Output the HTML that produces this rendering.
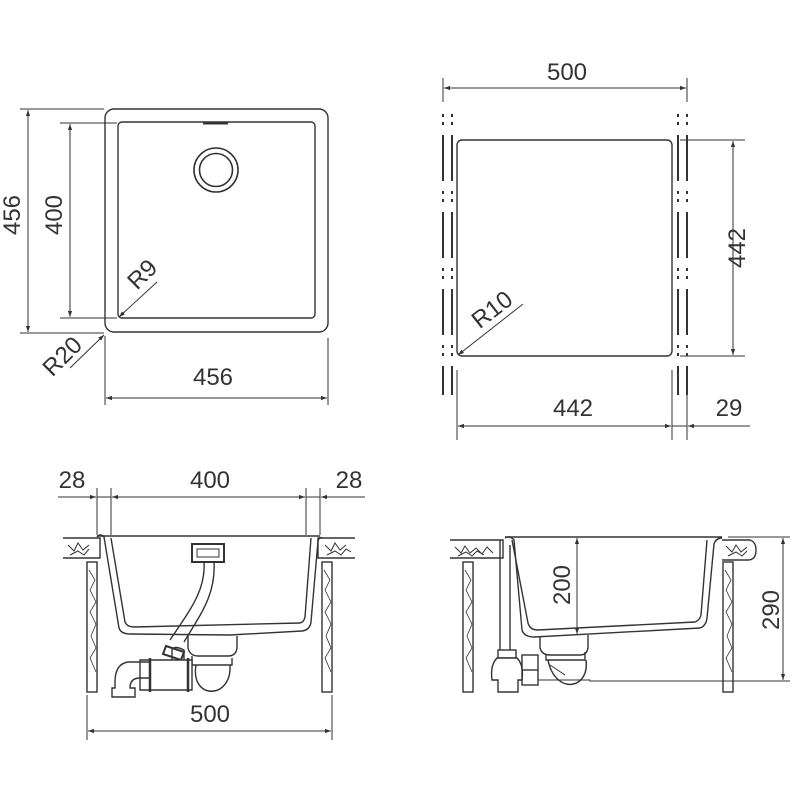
<!DOCTYPE html>
<html><head><meta charset="utf-8"><style>
html,body{margin:0;padding:0;background:#fff}
svg{display:block}
text{font-family:"Liberation Sans",sans-serif;font-size:24px;fill:#333}
</style></head><body>
<svg width="800" height="800" viewBox="0 0 800 800" xmlns="http://www.w3.org/2000/svg">
<defs>
<marker id="a" viewBox="0 0 10 10" refX="10" refY="5" markerWidth="9" markerHeight="6" orient="auto-start-reverse" markerUnits="userSpaceOnUse"><path d="M0,1.5 L10,5 L0,8.5 z" fill="#333"/></marker>
</defs>
<g stroke="#333" fill="none" stroke-width="1.4">
<!-- TOP LEFT -->
<rect x="105" y="109" width="223" height="223" rx="9"/>
<rect x="118" y="122" width="197" height="196" rx="4"/>
<line x1="203" y1="123" x2="228" y2="123" stroke-width="3"/>
<circle cx="216" cy="170" r="22" stroke-width="1.6"/>
<circle cx="216" cy="170" r="16.5" stroke-width="1.6"/>
<line x1="20" y1="109" x2="104" y2="109" stroke-width="1"/>
<line x1="20" y1="333" x2="104" y2="333" stroke-width="1"/>
<line x1="28" y1="110" x2="28" y2="332" marker-start="url(#a)" marker-end="url(#a)" stroke-width="1"/>
<line x1="60" y1="123" x2="117" y2="123" stroke-width="1"/>
<line x1="60" y1="318" x2="117" y2="318" stroke-width="1"/>
<line x1="70" y1="124" x2="70" y2="317" marker-start="url(#a)" marker-end="url(#a)" stroke-width="1"/>
<line x1="157" y1="282" x2="119" y2="317" marker-end="url(#a)" stroke-width="1"/>
<line x1="70" y1="368" x2="104" y2="335" marker-end="url(#a)" stroke-width="1"/>
<line x1="105" y1="336" x2="105" y2="405" stroke-width="1"/>
<line x1="328" y1="338" x2="328" y2="405" stroke-width="1"/>
<line x1="106" y1="398" x2="327" y2="398" marker-start="url(#a)" marker-end="url(#a)" stroke-width="1"/>

<!-- TOP RIGHT -->
<line x1="443" y1="78" x2="443" y2="102" stroke-width="1"/>
<line x1="687" y1="78" x2="687" y2="102" stroke-width="1"/>
<line x1="444" y1="88" x2="686" y2="88" marker-start="url(#a)" marker-end="url(#a)" stroke-width="1"/>
<g stroke-width="2" stroke-dasharray="3 5 3 10 46 10 3 5 3 10 46 10 3 5 3 10 46 10 3 5 3 10 38 10 3 5 3 6 14 20">
<line x1="443" y1="114" x2="443" y2="395"/>
<line x1="452" y1="114" x2="452" y2="395"/>
<line x1="678" y1="114" x2="678" y2="395"/>
<line x1="687" y1="114" x2="687" y2="395"/>
</g>
<rect x="457" y="140" width="215" height="216" rx="5"/>
<line x1="680" y1="140" x2="745" y2="140" stroke-width="1"/>
<line x1="680" y1="356" x2="745" y2="356" stroke-width="1"/>
<line x1="733" y1="141" x2="733" y2="355" marker-start="url(#a)" marker-end="url(#a)" stroke-width="1"/>
<line x1="523" y1="304" x2="458" y2="355" marker-end="url(#a)" stroke-width="1"/>
<line x1="457" y1="370" x2="457" y2="440" stroke-width="1"/>
<line x1="672" y1="370" x2="672" y2="440" stroke-width="1"/>
<line x1="687" y1="395" x2="687" y2="440" stroke-width="1"/>
<line x1="458" y1="426" x2="671" y2="426" marker-start="url(#a)" marker-end="url(#a)" stroke-width="1"/>
<line x1="672" y1="426" x2="687" y2="426" stroke-width="1"/>
<line x1="750" y1="426" x2="688" y2="426" marker-end="url(#a)" stroke-width="1"/>

<!-- BOTTOM LEFT -->
<line x1="97" y1="488" x2="97" y2="535" stroke-width="1"/>
<line x1="111" y1="488" x2="111" y2="535" stroke-width="1"/>
<line x1="306" y1="488" x2="306" y2="535" stroke-width="1"/>
<line x1="320" y1="488" x2="320" y2="535" stroke-width="1"/>
<line x1="58" y1="497" x2="96" y2="497" marker-end="url(#a)" stroke-width="1"/>
<line x1="97" y1="497" x2="111" y2="497" stroke-width="1"/>
<line x1="112" y1="497" x2="305" y2="497" marker-start="url(#a)" marker-end="url(#a)" stroke-width="1"/>
<line x1="306" y1="497" x2="320" y2="497" stroke-width="1"/>
<line x1="365" y1="497" x2="321" y2="497" marker-end="url(#a)" stroke-width="1"/>
<!-- counters -->
<path d="M63,538 H100 V558 H63"/><path d="M355,538 H318 V558 H355"/>
<path d="M68,545 l6,6 l4,-8 l5,7 l6,-5 M70,555 l8,-4 l6,4 l5,-6" stroke-width="1"/>
<path d="M325,545 l6,6 l4,-8 l5,7 l6,-5 M327,555 l8,-4 l6,4 l5,-6 l5,3" stroke-width="1"/>
<rect x="87" y="562" width="10" height="130"/><rect x="322" y="562" width="10" height="130"/>
<path d="M89,570 l6,10 l-5,10 l6,12 l-6,10 l6,12 l-5,12 l5,12 l-6,10 l6,14 M324,570 l6,10 l-5,10 l6,12 l-6,10 l6,12 l-5,12 l5,12 l-6,10 l6,14" stroke-width="0.8"/>
<!-- sink -->
<path d="M97,536 H320"/>
<path d="M97,537 Q100,533 104,537 L119,628 Q121,634 130,634 L230,635 L302,631 Q310,630 311,622 L318,541 Q320,536 322,538"/>
<path d="M111,538 L125,622 Q127,627 134,627 L300,623 Q304,622 305,617 L311,538"/>
<path d="M188,635 V648 Q190,656 198,656 H228 Q236,656 237,648 V636"/>
<rect x="192" y="544" width="32" height="18" stroke-width="2"/>
<rect x="197" y="549" width="22" height="8" stroke-width="1"/>
<path d="M204,562 C206,590 190,610 170,640" stroke-width="1.4"/>
<path d="M214,562 C216,595 200,615 184,642" stroke-width="1.4"/>
<path d="M166,646 l18,6 l-3,8 l-18,-6 z" stroke-width="2"/>
<path d="M192,656 V665 H232 V658" /><path d="M196,665 C190,700 232,700 230,665"/>
<path d="M140,660 H192 V690 H140 Z" fill="#fff"/>
<line x1="150" y1="658" x2="150" y2="692" stroke-width="2.5"/>
<line x1="188" y1="658" x2="188" y2="692" stroke-width="2.5"/>
<path d="M150,662 H128 Q115,664 115,682 V688 H112 V697 H135 V688 H130 Q130,678 140,678 H150"/>
<path d="M172,660 V650 Q174,645 184,650 V660"/>
<line x1="87" y1="695" x2="87" y2="740" stroke-width="1"/>
<line x1="332" y1="695" x2="332" y2="740" stroke-width="1"/>
<line x1="88" y1="731" x2="331" y2="731" marker-start="url(#a)" marker-end="url(#a)" stroke-width="1"/>

<!-- BOTTOM RIGHT -->
<path d="M450,540 H503 V558 H450"/><path d="M722,540 H750 Q756,542 756,550 Q756,560 748,560 H722"/>
<path d="M455,547 l6,6 l4,-7 l5,7 l6,-5 l6,6 l5,-7 l6,6 M458,556 l8,-4 l6,4 l5,-5 l7,4" stroke-width="1"/>
<path d="M726,546 l6,6 l4,-7 l5,7 l6,-5 M728,556 l8,-4 l6,4 l5,-5" stroke-width="1"/>
<rect x="463" y="562" width="10" height="130"/><rect x="723" y="562" width="10" height="130"/>
<path d="M465,570 l6,10 l-5,10 l6,12 l-6,10 l6,12 l-5,12 l5,12 l-6,10 l6,14 M725,570 l6,10 l-5,10 l6,12 l-6,10 l6,12 l-5,12 l5,12 l-6,10 l6,14" stroke-width="0.8"/>
<path d="M505,537 H722"/>
<path d="M505,538 Q510,535 514,540 L522,630 Q524,637 534,637 L700,628 Q706,626 707,618 L714,544 Q716,538 722,538"/>
<path d="M512,540 L528,623 Q530,630 538,630 L695,622 Q700,620 701,615 L707,540"/>
<path d="M540,637 V648 Q542,655 550,655 H580 Q588,655 588,646 V635"/>
<path d="M546,655 V660 H585 V652"/>
<path d="M548,660 C555,695 590,690 586,660"/>
<path d="M500,540 V650 M510,545 V650"/>
<rect x="498" y="650" width="18" height="8"/>
<path d="M497,658 Q490,665 492,680 H498 V692 H518 V680 H522 Q524,665 517,658 Z" fill="#fff"/>
<rect x="522" y="655" width="16" height="30"/>
<line x1="522" y1="670" x2="538" y2="670"/>
<path d="M550,665 L565,675 M538,680 H590 V681 H728" stroke-width="1"/>
<line x1="570" y1="537" x2="790" y2="537" stroke-width="0"/>
<line x1="728" y1="537" x2="790" y2="537" stroke-width="1"/>
<line x1="590" y1="681" x2="790" y2="681" stroke-width="1"/>
<line x1="577" y1="538" x2="577" y2="634" marker-start="url(#a)" marker-end="url(#a)" stroke-width="1"/>
<line x1="783" y1="538" x2="783" y2="680" marker-start="url(#a)" marker-end="url(#a)" stroke-width="1"/>
</g>
<g>
<text x="0" y="0" transform="translate(20,215) rotate(-90)" text-anchor="middle">456</text>
<text x="0" y="0" transform="translate(62,215) rotate(-90)" text-anchor="middle">400</text>
<text x="0" y="0" transform="translate(148,280) rotate(-45)" text-anchor="middle">R9</text>
<text x="0" y="0" transform="translate(68,362) rotate(-45)" text-anchor="middle">R20</text>
<text x="213" y="385" text-anchor="middle">456</text>
<text x="567" y="80" text-anchor="middle">500</text>
<text x="0" y="0" transform="translate(745,248) rotate(-90)" text-anchor="middle">442</text>
<text x="0" y="0" transform="translate(497,316) rotate(-38)" text-anchor="middle">R10</text>
<text x="573" y="416" text-anchor="middle">442</text>
<text x="729" y="416" text-anchor="middle">29</text>
<text x="72" y="488" text-anchor="middle">28</text>
<text x="210" y="488" text-anchor="middle">400</text>
<text x="349" y="488" text-anchor="middle">28</text>
<text x="210" y="722" text-anchor="middle">500</text>
<text x="0" y="0" transform="translate(570,585) rotate(-90)" text-anchor="middle">200</text>
<text x="0" y="0" transform="translate(779,610) rotate(-90)" text-anchor="middle">290</text>
</g>
</svg>
</body></html>
